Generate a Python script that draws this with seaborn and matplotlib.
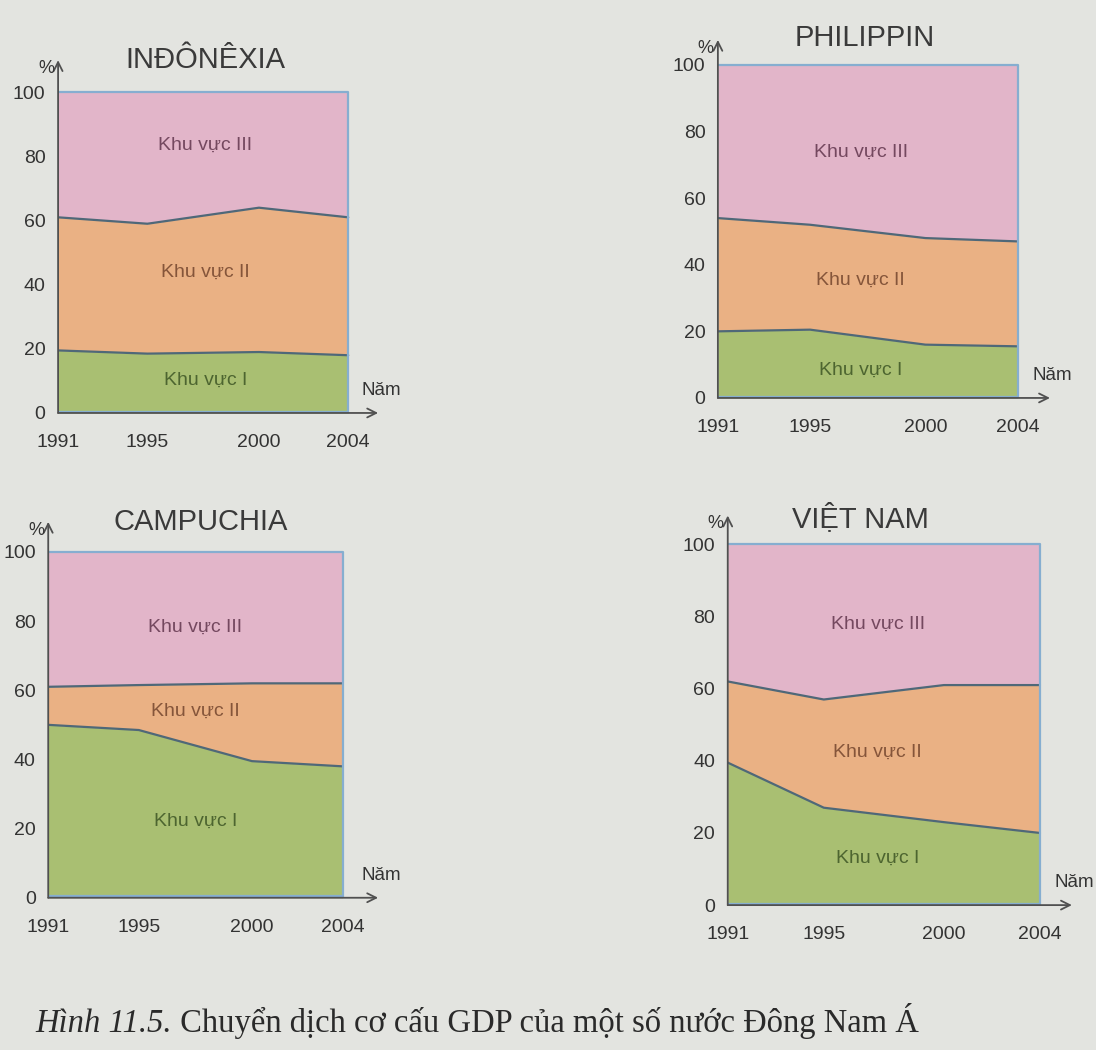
import numpy as np
import pandas as pd
import matplotlib
matplotlib.use("Agg")
import matplotlib.pyplot as plt
import seaborn as sns

# ---------------- data ----------------
years = [1991, 1995, 2000, 2004]
countries = ["INĐÔNÊXIA", "PHILIPPIN", "CAMPUCHIA", "VIỆT NAM"]
sector_labels = ["Khu vực I", "Khu vực II", "Khu vực III"]

indo_I = [19.5, 18.5, 19.0, 18.0]
indo_II = [41.5, 40.5, 45.0, 43.0]
indo_III = [39.0, 41.0, 36.0, 39.0]

phil_I = [20.0, 20.5, 16.0, 15.5]
phil_II = [34.0, 31.5, 32.0, 31.5]
phil_III = [46.0, 48.0, 52.0, 53.0]

camb_I = [50.0, 48.5, 39.5, 38.0]
camb_II = [11.0, 13.0, 22.5, 24.0]
camb_III = [39.0, 38.5, 38.0, 38.0]

viet_I = [39.5, 27.0, 23.0, 20.0]
viet_II = [22.5, 30.0, 38.0, 41.0]
viet_III = [38.0, 43.0, 39.0, 39.0]

yticks = [0, 20, 40, 60, 80, 100]
caption_italic = "Hình 11.5."
caption_rest = " Chuyển dịch cơ cấu GDP của một số nước Đông Nam Á"

series = {
    "INĐÔNÊXIA": (indo_I, indo_II, indo_III),
    "PHILIPPIN": (phil_I, phil_II, phil_III),
    "CAMPUCHIA": (camb_I, camb_II, camb_III),
    "VIỆT NAM": (viet_I, viet_II, viet_III),
}

# ---------------- layout / style ----------------
BG = "#e3e4e0"
fills = ["#a9bf72", "#eab184", "#e2b5c9"]
text_cols = ["#4d6530", "#85553a", "#74485f"]
line_col = "#4f6878"
edge_col = "#86aed0"
axis_col = "#505050"

layout = {
    "INĐÔNÊXIA": dict(rect=[0.053, 0.6067, 0.292, 0.336], xmax=2005.34, ymax=110.0,
                      title=(0.187, 0.943), labels=[(1997.6, 10.3), (1997.6, 44), (1997.6, 83.5)]),
    "PHILIPPIN": dict(rect=[0.655, 0.621, 0.303, 0.341], xmax=2005.4, ymax=107.5,
                      title=(0.789, 0.964), labels=[(1997.2, 8.4), (1997.2, 35.4), (1997.2, 73.6)]),
    "CAMPUCHIA": dict(rect=[0.044, 0.145, 0.301, 0.358], xmax=2005.57, ymax=108.7,
                      title=(0.183, 0.503), labels=[(1997.5, 22), (1997.5, 53.8), (1997.5, 78.3)]),
    "VIỆT NAM": dict(rect=[0.664, 0.138, 0.314, 0.371], xmax=2005.33, ymax=108.0,
                     title=(0.785, 0.507), labels=[(1997.25, 13), (1997.25, 42.4), (1997.25, 77.8)]),
}

sns.set_theme(style="white")
plt.rcParams["font.family"] = ["Liberation Sans", "DejaVu Sans"]

fig = plt.figure(figsize=(10.96, 10.5), dpi=100)
fig.patch.set_facecolor(BG)

for name in countries:
    I, II, III = series[name]
    L = layout[name]
    ax = fig.add_axes(L["rect"])
    ax.set_facecolor("none")
    cumI = np.array(I)
    cumII = cumI + np.array(II)
    top = cumII + np.array(III)
    ax.stackplot(years, I, II, III, colors=fills, linewidth=0)
    df = pd.DataFrame({"year": years, "b1": cumI, "b2": cumII, "top": top})
    sns.lineplot(data=df, x="year", y="b1", color=line_col, lw=1.6, ax=ax)
    sns.lineplot(data=df, x="year", y="b2", color=line_col, lw=1.6, ax=ax)
    sns.lineplot(data=df, x="year", y="top", color=edge_col, lw=1.6, ax=ax)
    ax.vlines(years[-1], 0, top[-1], color=edge_col, lw=1.6)
    ax.hlines(0.4, years[0], years[-1], color=edge_col, lw=1.6)

    for (lx, ly), lab, tc in zip(L["labels"], sector_labels, text_cols):
        ax.text(lx, ly, lab, ha="center", va="center", fontsize=14, color=tc)

    ax.set_xlim(years[0], L["xmax"])
    ax.set_ylim(0, L["ymax"])
    ax.set_xlabel("")
    ax.set_ylabel("")
    for s in ax.spines.values():
        s.set_visible(False)
    ax.set_xticks(years)
    ax.set_xticklabels([str(y) for y in years])
    ax.set_yticks(yticks)
    ax.set_yticks([10, 30, 50, 70, 90], minor=True)
    ax.tick_params(axis="both", which="both", direction="out", colors=axis_col,
                   labelcolor="#333333", labelsize=14, width=1.1)
    ax.tick_params(axis="y", which="both", length=8, pad=1)
    ax.tick_params(axis="x", which="major", length=6, pad=9)
    ax.grid(False)

    ax.annotate("", xy=(1, 0), xytext=(0, 0), xycoords="axes fraction",
                arrowprops=dict(arrowstyle="->", lw=1.3, color=axis_col,
                                shrinkA=0, shrinkB=0, mutation_scale=16))
    ax.annotate("", xy=(0, 1), xytext=(0, 0), xycoords="axes fraction",
                arrowprops=dict(arrowstyle="->", lw=1.3, color=axis_col,
                                shrinkA=0, shrinkB=0, mutation_scale=16))
    ax.annotate("%", xy=(0, 1), xycoords="axes fraction", xytext=(-3, -6),
                textcoords="offset points", ha="right", va="center",
                fontsize=13, color="#333333")
    ax.annotate("Năm", xy=(1, 0), xycoords="axes fraction", xytext=(2, 16),
                textcoords="offset points", ha="center", va="center",
                fontsize=13.5, color="#333333")

    tx, ty = L["title"]
    fig.text(tx, ty, name, ha="center", va="center", fontsize=21,
             color="#3a3a3a")

# caption
t1 = fig.text(0.032, 0.017, caption_italic, ha="left", va="baseline",
              fontsize=23.5, style="italic", family=["Liberation Serif", "DejaVu Serif"],
              color="#2a2a2a")
fig.canvas.draw()
bb = t1.get_window_extent()
x_end = bb.x1 / fig.bbox.width
fig.text(x_end, 0.017, caption_rest, ha="left", va="baseline", fontsize=23.5,
         family=["Liberation Serif", "DejaVu Serif"], color="#2a2a2a")

fig.savefig("out.png", dpi=100, facecolor=BG)
